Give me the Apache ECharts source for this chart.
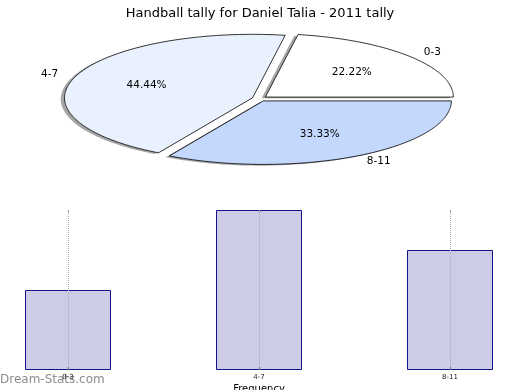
<!DOCTYPE html>
<html>
<head>
<meta charset="utf-8">
<script src="https://cdn.jsdelivr.net/npm/echarts@6/dist/echarts.min.js"></script>
<style>html,body{margin:0;padding:0;background:#fff;}#c{width:520px;height:390px;}</style>
</head>
<body>
<div id="c"></div>
<script>
var titleText = 'Handball tally for Daniel Talia - 2011 tally';
var categories = ['0-3', '4-7', '8-11'];
var pieValues = [2, 4, 3];
var pieColors = ['#ffffff', '#eaf1fe', '#c4d8fe'];
var barValues = [2, 4, 3];
var axisName = 'Frequency';
var watermark = 'Dream-Stats.com';

var total = pieValues.reduce(function (s, v) { return s + v; }, 0);
var explode = 0.04;
function sliceAngles(i) {
  var cum = 0;
  for (var k = 0; k < i; k++) cum += pieValues[k];
  var a0 = cum / total * 2 * Math.PI;
  var a1 = (cum + pieValues[i]) / total * 2 * Math.PI;
  return [a0, a1];
}
function slicePoints(api, i, dx, dy) {
  var ang = sliceAngles(i);
  var m = (ang[0] + ang[1]) / 2;
  var ox = explode * Math.cos(m) + dx, oy = explode * Math.sin(m) + dy;
  var pts = [api.coord([ox, oy])];
  var steps = Math.max(8, Math.ceil((ang[1] - ang[0]) / (Math.PI / 180)));
  for (var s = 0; s <= steps; s++) {
    var t = ang[0] + (ang[1] - ang[0]) * s / steps;
    pts.push(api.coord([ox + Math.cos(t), oy + Math.sin(t)]));
  }
  return pts;
}

var chart = echarts.init(document.getElementById('c'), null, { renderer: 'canvas' });
var pieData = pieValues.map(function (v) { return [v]; });

chart.setOption({
  animation: false,
  backgroundColor: '#ffffff',
  title: {
    text: titleText, left: 'center', top: 2,
    textStyle: { fontFamily: 'DejaVu Sans', fontSize: 13, fontWeight: 'normal', color: '#000' }
  },
  graphic: [{
    type: 'text', left: 0, top: 374,
    style: { text: watermark, font: '12px "DejaVu Sans"', fill: '#8c8c8c' }
  }],
  grid: [
    { left: 71.6, top: 35.2, width: 376, height: 127, outerBoundsMode: 'none' },
    { left: 68, right: 70, top: 210, bottom: 20, outerBoundsMode: 'none' }
  ],
  xAxis: [
    { type: 'value', gridIndex: 0, min: -1, max: 1, show: false },
    {
      type: 'category', gridIndex: 1, data: categories, boundaryGap: false, z: 3,
      axisLine: { show: false },
      axisTick: { show: true, inside: true, length: 3, lineStyle: { color: '#777' } },
      axisLabel: { fontFamily: 'DejaVu Sans', fontSize: 7, color: '#222', margin: 4 },
      splitLine: { show: true, lineStyle: { type: 'dotted', color: '#aaaaaa', width: 1 } },
      name: axisName, nameLocation: 'middle', nameGap: 14,
      nameTextStyle: { fontFamily: 'DejaVu Sans', fontSize: 10, color: '#000' }
    },
    {
      type: 'category', gridIndex: 1, data: categories, boundaryGap: false, position: 'top', z: 3,
      axisLine: { show: false },
      axisTick: { show: true, inside: true, length: 3, lineStyle: { color: '#999' } },
      axisLabel: { show: false }, splitLine: { show: false }
    }
  ],
  yAxis: [
    { type: 'value', gridIndex: 0, min: -1, max: 1, show: false },
    { type: 'value', gridIndex: 1, min: 0, max: 4, show: false }
  ],
  series: [
    {
      type: 'custom', xAxisIndex: 0, yAxisIndex: 0, z: 1, silent: true,
      data: pieData,
      renderItem: function (params, api) {
        var pts = slicePoints(api, params.dataIndex, -0.02, -0.02);
        return { type: 'polygon', shape: { points: pts }, style: { fill: 'rgba(77,77,77,0.5)' } };
      }
    },
    {
      type: 'custom', xAxisIndex: 0, yAxisIndex: 0, z: 2,
      data: pieData,
      renderItem: function (params, api) {
        var i = params.dataIndex;
        var pts = slicePoints(api, i, 0, 0);
        var ang = sliceAngles(i);
        var m = (ang[0] + ang[1]) / 2;
        var ox = explode * Math.cos(m), oy = explode * Math.sin(m);
        var pctPos = api.coord([ox + 0.6 * Math.cos(m), oy + 0.6 * Math.sin(m)]);
        var labPos = api.coord([ox + 1.1 * Math.cos(m), oy + 1.1 * Math.sin(m)]);
        var pct = (api.value(0) / total * 100).toFixed(2) + '%';
        return {
          type: 'group',
          children: [
            { type: 'polygon', shape: { points: pts },
              style: { fill: pieColors[i], stroke: '#000', lineWidth: 0.8 } },
            { type: 'text', z2: 10,
              style: { text: pct, x: pctPos[0], y: pctPos[1], align: 'center', verticalAlign: 'middle',
                       font: '10.5px "DejaVu Sans"', fill: '#000' } },
            { type: 'text', z2: 10,
              style: { text: categories[i], x: labPos[0], y: labPos[1],
                       align: Math.cos(m) > 0 ? 'left' : 'right', verticalAlign: 'middle',
                       font: '10.5px "DejaVu Sans"', fill: '#000' } }
          ]
        };
      }
    },
    {
      type: 'bar', xAxisIndex: 1, yAxisIndex: 1, data: barValues, barWidth: 86, clip: false,
      itemStyle: { color: '#ccccE6', borderColor: '#12128c', borderWidth: 1 }
    }
  ]
});
</script>
</body>
</html>
